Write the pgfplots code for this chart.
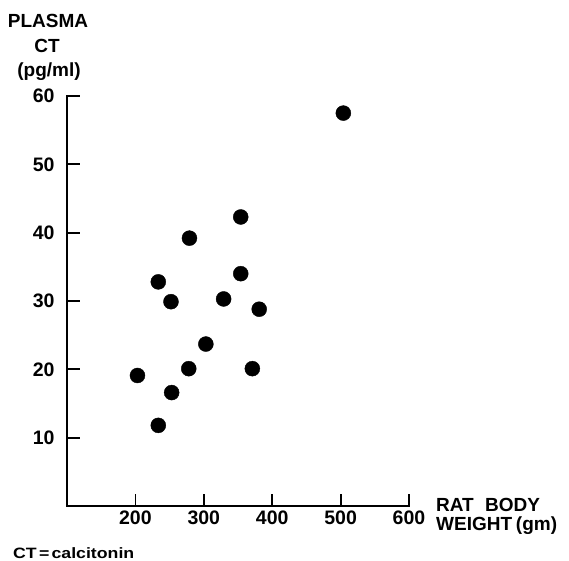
\documentclass[border=0pt]{standalone}
\usepackage{fontspec}
\setmainfont{Liberation Sans}
\usepackage{pgfplots}
\pgfplotsset{compat=1.18}
\begin{document}
\begin{tikzpicture}
\useasboundingbox (-67pt,-54pt) rectangle (502pt,506pt);
\begin{axis}[
  at={(0pt,0pt)}, anchor=south west, scale only axis,
  width=342pt, height=410pt,
  xmin=100, xmax=600, ymin=0, ymax=60,
  enlargelimits=false,
  axis lines=left,
  axis line style={-, line width=1.8pt, line cap=rect},
  tick align=inside, major tick length=12.5pt,
  tick style={line width=1.8pt, black},
  xtick={200,300,400,500,600}, ytick={10,20,30,40,50,60},
  /pgf/number format/assume math mode=true,
  ticklabel style={font=\fontsize{19.5}{21}\selectfont\bfseries},
  yticklabel style={xshift=-9pt},
  xticklabel style={yshift=-1pt},
  clip=false,
]
\addplot[only marks, mark=*, mark size=7.5pt, mark options={draw=none, fill=black}] coordinates {
(354,42.3) (279,39.2) (233.5,32.8) (354,34.0) (252,29.9) (329,30.3) (381,28.8)
(303,23.7) (278,20.1) (371,20.1) (253,16.6) (233.5,11.8) (203,19.1) (504,57.5)
};
\end{axis}
\begin{scope}[every node/.style={inner sep=0pt, font=\fontsize{19}{21}\selectfont\bfseries}]
\node[anchor=base] at (-19pt,478pt) {PLASMA};
\node[anchor=base] at (-20pt,453pt) {CT};
\node[anchor=base] at (-18pt,429pt) {(pg/ml)};
\node[anchor=base west] at (369pt,-5pt) {RAT\hspace{0.6em}BODY};
\node[anchor=base west] at (369pt,-24pt) {WEIGHT\hspace{0.2em}(gm)};
\node[anchor=base west, font=\fontsize{15}{17}\selectfont\bfseries\addfontfeatures{FakeStretch=1.18}] at (-54pt,-52pt) {CT\hspace{0.15em}=\hspace{0.15em}calcitonin};
\end{scope}
\end{tikzpicture}
\end{document}
